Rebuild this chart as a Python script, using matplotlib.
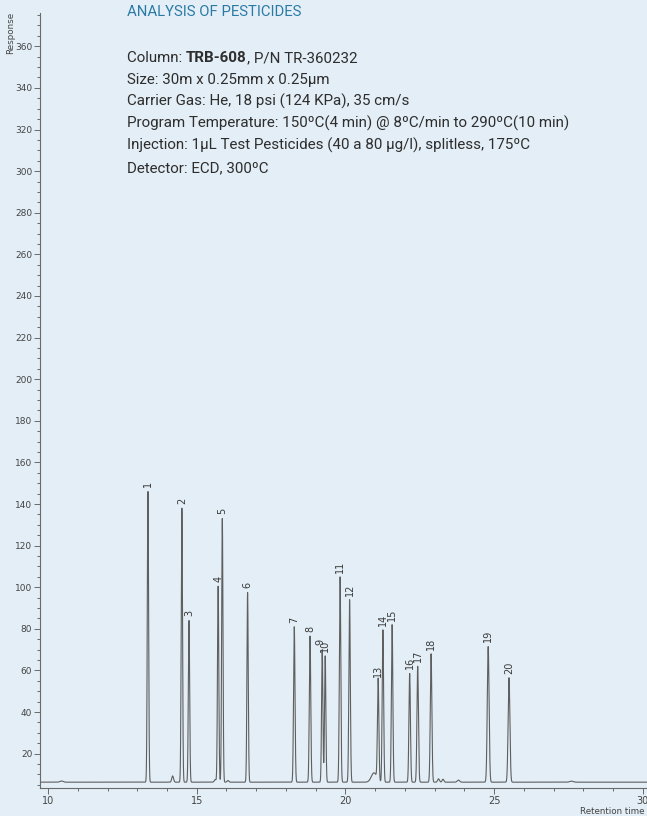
import numpy as np
import matplotlib
matplotlib.use("Agg")
import matplotlib.pyplot as plt
from matplotlib.ticker import MultipleLocator

BG = "#e3eef6"
INK = "#5f5f5f"
TXT = "#2e2e2e"
TITLE = "#2a7aa6"

# peaks: retention time (min), height (response), label
peak_times = [13.36, 14.50, 14.74, 15.72, 15.86, 16.71, 18.28, 18.81, 19.22, 19.32,
              19.82, 20.14, 21.10, 21.26, 21.57, 22.16, 22.43, 22.88, 24.80, 25.50]
peak_heights = [146, 138, 84, 100.5, 133, 97.5, 81, 76.5, 70, 67,
                105, 94, 55, 79.5, 82, 58.5, 62, 68, 71.5, 56.5]
peak_labels = [str(i) for i in range(1, 21)]
peak_widths = [0.022, 0.022, 0.022, 0.022, 0.022, 0.022, 0.024, 0.024, 0.022, 0.022,
               0.024, 0.024, 0.024, 0.024, 0.024, 0.025, 0.025, 0.026, 0.030, 0.030]

# small unlabelled bumps
minor_times = [10.45, 14.19, 15.62, 16.05, 20.96, 23.13, 23.28, 23.80, 27.6]
minor_heights = [0.6, 3.0, 1.3, 0.8, 4.5, 1.6, 1.4, 1.0, 0.5]
minor_widths = [0.05, 0.03, 0.03, 0.03, 0.09, 0.03, 0.03, 0.04, 0.06]

baseline = 6.3

info_lines = [
    "Size: 30m x 0.25mm x 0.25\u00b5m",
    "Carrier Gas: He, 18 psi (124 KPa), 35 cm/s",
    "Program Temperature: 150\u00baC(4 min) @ 8\u00baC/min to 290\u00baC(10 min)",
    "Injection: 1\u00b5L Test Pesticides (40 a 80 \u00b5g/l), splitless, 175\u00baC",
    "Detector: ECD, 300\u00baC",
]

plt.rcParams["font.family"] = ["Roboto", "DejaVu Sans"]

fig = plt.figure(figsize=(6.47, 8.16), dpi=100)
fig.patch.set_facecolor(BG)
ax = fig.add_axes([40 / 647, 28 / 816, 607 / 647, 775 / 816])
ax.set_facecolor(BG)

t = np.linspace(9.73, 30.14, 30000)
signal = np.full_like(t, baseline)
for tr, h, w in zip(peak_times, peak_heights, peak_widths):
    signal += (h - baseline) * np.exp(-0.5 * ((t - tr) / w) ** 2)
for tr, h, w in zip(minor_times, minor_heights, minor_widths):
    signal += h * np.exp(-0.5 * ((t - tr) / w) ** 2)

ax.plot(t, signal, color=INK, lw=0.8)

for tr, h, lab in zip(peak_times, peak_heights, peak_labels):
    dx = -0.06 if lab == "9" else 0.0
    ax.text(tr + dx, h + 2, lab, rotation=90, ha="center", va="bottom",
            fontsize=7, color="#3a3a3a", family=["DejaVu Sans"])

ax.set_xlim(9.73, 30.14)
ax.set_ylim(3.5, 376)
for s in ("top", "right"):
    ax.spines[s].set_visible(False)
for s in ("left", "bottom"):
    ax.spines[s].set_color("#6a6a6a")
    ax.spines[s].set_linewidth(0.8)

ax.xaxis.set_major_locator(MultipleLocator(5))
ax.xaxis.set_minor_locator(MultipleLocator(1))
ax.yaxis.set_minor_locator(MultipleLocator(5))
ax.set_yticks(np.arange(20, 361, 20))
ax.tick_params(which="both", colors="#6a6a6a", labelcolor="#444444",
               labelsize=6.5, width=0.7)
ax.tick_params(which="major", length=4)
ax.tick_params(which="minor", length=2.5)
for lab in ax.get_xticklabels() + ax.get_yticklabels():
    lab.set_family(["DejaVu Sans"])
ax.tick_params(axis="x", labelsize=7, pad=2)
ax.tick_params(axis="y", pad=1.5)

fig.text(10.5 / 647, 1 - 33 / 816, "Response", rotation=90, ha="center",
         va="center", fontsize=6.3, color="#444444", family=["DejaVu Sans"])
fig.text(645 / 647, 1 - 812 / 816, "Retention time", ha="right", va="center",
         fontsize=6.3, color="#444444", family=["DejaVu Sans"])

# header block
fig.text(127 / 647, 1 - 12 / 816, "ANALYSIS OF PESTICIDES", ha="left",
         va="center", fontsize=10.7, color=TITLE)

x0 = 127 / 647
y_first = 1 - 62 / 816
step = 22 / 816
fs = 10.9
t1 = fig.text(x0, y_first, "Column: ", ha="left", va="baseline", fontsize=fs, color=TXT)
a2 = ax.annotate("TRB-608", xy=(1, 0), xycoords=t1, va="bottom", ha="left",
                 fontsize=fs, color=TXT, weight="bold", annotation_clip=False)
ax.annotate(", P/N TR-360232", xy=(1, 0), xycoords=a2, va="bottom", ha="left",
            fontsize=fs, color=TXT, annotation_clip=False)
for i, line in enumerate(info_lines):
    fig.text(x0, y_first - (i + 1) * step, line, ha="left", va="baseline",
             fontsize=fs, color=TXT)

fig.savefig("out.png", dpi=100, facecolor=BG)
